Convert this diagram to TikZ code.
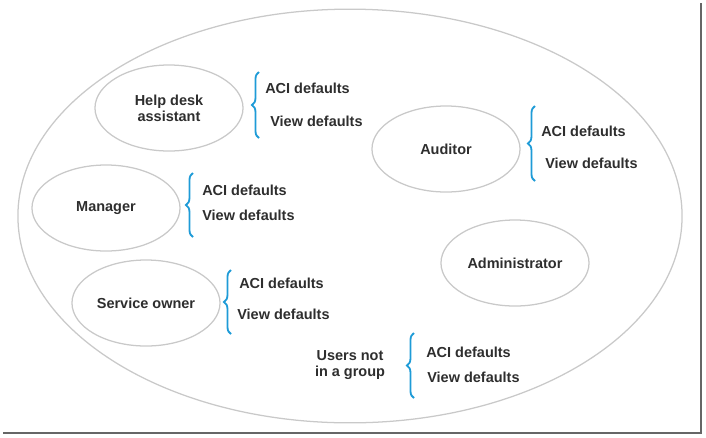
\documentclass[tikz,border=0pt]{standalone}
\usepackage{fontspec}
\setmainfont{Liberation Sans}
\usetikzlibrary{shapes.geometric, decorations.pathreplacing, positioning, calc}
\definecolor{roleGray}{HTML}{C9C9C9}
\definecolor{braceBlue}{HTML}{1E9BD7}
\definecolor{textDark}{HTML}{2E2E2E}

\begin{document}
\begin{tikzpicture}[x=0.025cm, y=-0.025cm,
  role/.style={ellipse, draw=roleGray, line width=0.9pt, inner sep=0pt, minimum width=3.7cm, minimum height=2.15cm, align=center, font=\fontsize{10.3}{11.5}\selectfont\bfseries, text=textDark},
  deflabel/.style={anchor=west, inner sep=0pt, font=\fontsize{10.3}{11.5}\selectfont\bfseries, text=textDark},
  bracket/.style={decorate, decoration={brace, amplitude=5pt}, draw=braceBlue, line width=1.3pt}]
\useasboundingbox (0,0) rectangle (706,437);
% shadow edge
\draw[gray!80!black, line width=1.3pt] (3,433) -- (701,433) -- (701,3);
% outer group
\draw[roleGray, line width=0.9pt] (350,216) ellipse [x radius=8.3cm, y radius=5.17cm];

% roles
\node[role] (helpdesk) at (169,108) {Help desk\\assistant};
\node[role] (auditor) at (446,149) {Auditor};
\node[role] (manager) at (106,208) {Manager};
\node[role] (admin) at (515,263) {Administrator};
\node[role] (service) at (146,303) {Service owner};
\node[align=center, inner sep=0pt, font=\fontsize{10.3}{11.5}\selectfont\bfseries, text=textDark] (users) at (350,365) {Users not\\in a group};

% defaults
\node[deflabel] (aciH) at (265,88) {ACI defaults};
\node[deflabel] (viewH) at (270,121) {View defaults};
\node[deflabel] (aciA) at (541,131) {ACI defaults};
\node[deflabel] (viewA) at (545,163) {View defaults};
\node[deflabel] (aciM) at (202,190) {ACI defaults};
\node[deflabel] (viewM) at (202,215) {View defaults};
\node[deflabel] (aciS) at (239,283) {ACI defaults};
\node[deflabel] (viewS) at (237,314) {View defaults};
\node[deflabel] (aciU) at (426,352) {ACI defaults};
\node[deflabel] (viewU) at (427,377) {View defaults};

% braces
\coordinate (bH1) at (259,138); \coordinate (bH2) at (259,72);
\coordinate (bA1) at (535,181); \coordinate (bA2) at (535,106);
\coordinate (bM1) at (193,237); \coordinate (bM2) at (193,173);
\coordinate (bS1) at (231,334); \coordinate (bS2) at (231,270);
\coordinate (bU1) at (414,398); \coordinate (bU2) at (414,333);
\foreach \b in {H,A,M,S,U}
  \draw[bracket] (b\b1) -- (b\b2);
\end{tikzpicture}
\end{document}
